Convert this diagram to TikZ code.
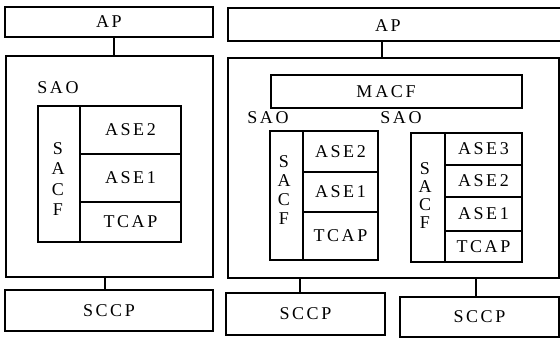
\documentclass[tikz,border=0pt]{standalone}
\usepackage{fontspec}
\setmainfont{Liberation Serif}[LetterSpace=14]
\begin{document}
\begin{tikzpicture}[x=1pt,y=-1pt,line width=1.2pt,
  box/.style={draw,inner sep=0pt,font=\fontsize{18}{20}\selectfont},
  lbl/.style={inner sep=0pt,font=\fontsize{18}{20}\selectfont},
  vert/.style={inner sep=0pt,align=center,font=\fontsize{18}{20.5}\selectfont}]
\useasboundingbox (0,0) rectangle (560,338);
% ---------- left stack ----------
\node[box,minimum width=208,minimum height=30] (apL) at (109,22) {AP};
\node[box,minimum width=207,minimum height=221] (outerL) at (109.5,166.5) {};
\node[lbl] (saoL) at (58,88) {SAO};
\node[box,minimum width=42,minimum height=136] (sacfL) at (59,174) {};
\node[vert] (sacfLt) at (58,179) {S\\A\\C\\F};
\node[box,minimum width=101,minimum height=48] (ase2L) at (130.5,130) {ASE2};
\node[box,minimum width=101,minimum height=48] (ase1L) at (130.5,178) {ASE1};
\node[box,minimum width=101,minimum height=40] (tcapL) at (130.5,222) {TCAP};
\node[box,minimum width=208,minimum height=41] (sccpL) at (109,310.5) {SCCP};
\draw ([xshift=5pt]apL.south) -- ([xshift=5pt]apL.south |- outerL.north);
\draw ([xshift=-4pt]sccpL.north) -- ([xshift=-4pt]sccpL.north |- outerL.south);
% ---------- right stack ----------
\node[box,minimum width=336,minimum height=33] (apR) at (396,24.5) {};
\node[lbl] (apRt) at (388,26) {AP};
\node[box,minimum width=331,minimum height=220] (outerR) at (393.5,168) {};
\node[box,minimum width=251,minimum height=33] (macf) at (396.5,91.5) {};
\node[lbl] (macft) at (386,92) {M\hspace{3pt}ACF};
\node[lbl] (saoR1) at (268,118) {SAO};
\node[lbl] (saoR2) at (401,118) {SAO};
% SAO 1
\node[box,minimum width=33,minimum height=129] (sacfR1) at (286.5,195.5) {};
\node[vert,font=\fontsize{18}{19}\selectfont] (sacfR1t) at (284,190) {S\\A\\C\\F};
\node[box,minimum width=75,minimum height=41] (ase2R1) at (340.5,151.5) {ASE2};
\node[box,minimum width=75,minimum height=40] (ase1R1) at (340.5,192) {ASE1};
\node[box,minimum width=75,minimum height=48] (tcapR1) at (340.5,236) {TCAP};
% SAO 2
\node[box,minimum width=34,minimum height=129] (sacfR2) at (428,197.5) {};
\node[vert,font=\fontsize{18}{18}\selectfont] (sacfR2t) at (425,196) {S\\A\\C\\F};
\node[box,minimum width=77,minimum height=32] (ase3R2) at (483.5,149) {ASE3};
\node[box,minimum width=77,minimum height=32] (ase2R2) at (483.5,181) {ASE2};
\node[box,minimum width=77,minimum height=34] (ase1R2) at (483.5,214) {ASE1};
\node[box,minimum width=77,minimum height=31] (tcapR2) at (483.5,246.5) {TCAP};
% SCCPs
\node[box,minimum width=159,minimum height=42] (sccpR1) at (305.5,314) {SCCP};
\node[box,minimum width=159,minimum height=40] (sccpR2) at (479.5,317) {SCCP};
\draw ([xshift=-6pt]apRt.south |- apR.south) -- ([xshift=-6pt]apRt.south |- outerR.north);
\draw ([xshift=-5.5pt]sccpR1.north) -- ([xshift=-5.5pt]sccpR1.north |- outerR.south);
\draw ([xshift=-3.5pt]sccpR2.north) -- ([xshift=-3.5pt]sccpR2.north |- outerR.south);
\end{tikzpicture}
\end{document}
